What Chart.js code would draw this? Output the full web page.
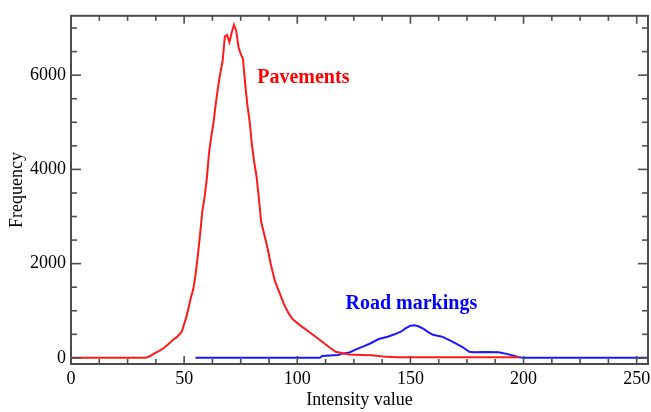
<!DOCTYPE html>
<html>
<head>
<meta charset="utf-8">
<script src="https://cdn.jsdelivr.net/npm/chart.js@4.4.1/dist/chart.umd.min.js"></script>
<style>
  body { margin: 0; background: #fff; }
  #wrap { width: 651px; height: 412px; }
</style>
</head>
<body>
<div id="wrap"><canvas id="chart" width="651" height="412"></canvas></div>
<script>
// Pavements histogram (red)
const pavementX = [0, 33, 35, 37, 39, 41, 43, 45, 47, 49, 51, 53, 54, 55, 56, 57, 58, 59, 60, 61, 62, 63, 64, 65, 66, 67, 68, 69, 70, 71, 72, 73, 74, 75, 76, 77, 78, 79, 80, 81, 82, 83, 84, 85, 86, 87, 88, 89, 90, 92, 94, 96, 98, 101, 105, 110, 114, 117, 120, 123, 128, 133, 138, 144, 150, 170, 198];
const pavementY = [0, 0, 40, 100, 150, 210, 290, 380, 450, 560, 870, 1280, 1450, 1750, 2150, 2600, 3100, 3400, 3800, 4350, 4700, 5000, 5400, 5750, 6050, 6300, 6820, 6850, 6700, 6900, 7070, 6950, 6600, 6450, 6350, 5800, 5350, 5000, 4500, 4150, 3850, 3400, 2900, 2700, 2500, 2300, 2050, 1850, 1650, 1400, 1150, 960, 820, 700, 560, 380, 230, 130, 100, 70, 60, 55, 30, 15, 15, 15, 15];

// Road markings histogram (blue)
const markingX = [55, 110, 111, 118, 120, 123, 126, 129, 132, 136, 140, 143, 146, 148, 150, 152, 154, 156, 158, 160, 164, 167, 170, 173, 176, 178, 183, 189, 193, 196, 198, 200, 255];
const markingY = [0, 0, 40, 60, 90, 115, 180, 240, 300, 400, 450, 500, 560, 630, 680, 690, 660, 610, 540, 490, 450, 380, 310, 230, 130, 120, 125, 120, 80, 40, 15, 0, 0];

const xMajorTicks = [0, 50, 100, 150, 200, 250];
const yMajorTicks = [0, 2000, 4000, 6000];

const labels = [
  { text: 'Pavements', x: 82.3, y: 5950, color: '#ff0000' },
  { text: 'Road markings', x: 121.3, y: 1140, color: '#0000ff' }
];

const serif = '"Liberation Serif", "Times New Roman", serif';

const toPoints = (xs, ys) => xs.map((x, i) => ({ x: x, y: ys[i] }));

const framePlugin = {
  id: 'frame',
  afterDatasetsDraw(chart) {
    const { ctx, chartArea: a, scales } = chart;
    const x = scales.x, y = scales.y;
    ctx.save();
    ctx.strokeStyle = '#4d4d4d';
    ctx.lineWidth = 2;
    ctx.strokeRect(a.left, a.top, a.right - a.left, a.bottom - a.top);

    const seg = (x1, y1, x2, y2) => {
      ctx.beginPath();
      ctx.moveTo(x1, y1);
      ctx.lineTo(x2, y2);
      ctx.stroke();
    };

    // inward ticks, 4 subdivisions between major ticks
    ctx.lineWidth = 1.6;
    for (let v = 0; v <= 255; v += 12.5) {
      const px = x.getPixelForValue(v);
      const len = v % 50 === 0 ? 8 : 5;
      seg(px, a.bottom, px, a.bottom - len);
      seg(px, a.top, px, a.top + len);
    }
    for (let v = 0; v <= 7000; v += 500) {
      const py = y.getPixelForValue(v);
      const len = v % 2000 === 0 ? 10 : 6;
      seg(a.left, py, a.left + len, py);
      seg(a.right, py, a.right - len, py);
    }

    // series labels
    ctx.font = 'bold 20px ' + serif;
    ctx.textBaseline = 'middle';
    ctx.textAlign = 'left';
    labels.forEach(l => {
      ctx.fillStyle = l.color;
      ctx.fillText(l.text, x.getPixelForValue(l.x), y.getPixelForValue(l.y));
    });
    ctx.restore();
  }
};

new Chart(document.getElementById('chart'), {
  type: 'line',
  data: {
    datasets: [
      {
        label: 'Pavements',
        data: toPoints(pavementX, pavementY),
        borderColor: '#ff1a1a',
        borderWidth: 2,
        pointRadius: 0,
        tension: 0
      },
      {
        label: 'Road markings',
        data: toPoints(markingX, markingY),
        borderColor: '#1a1aff',
        borderWidth: 2,
        pointRadius: 0,
        tension: 0
      }
    ]
  },
  options: {
    responsive: false,
    animation: false,
    layout: { padding: { top: 13, right: 3, left: 0, bottom: 0 } },
    plugins: {
      legend: { display: false },
      tooltip: { enabled: false }
    },
    scales: {
      x: {
        type: 'linear',
        min: 0,
        max: 255,
        afterBuildTicks: (scale) => { scale.ticks = xMajorTicks.map(v => ({ value: v })); },
        afterFit: (scale) => {
          scale.height = 48;
          scale.paddingLeft = 0;
          scale.paddingRight = 0;
        },
        grid: { display: false, drawTicks: false },
        border: { display: false },
        ticks: { color: '#000', font: { family: serif, size: 18 }, padding: 4, maxRotation: 0 },
        title: {
          display: true,
          text: 'Intensity value',
          color: '#000',
          font: { family: serif, size: 18 },
          padding: { top: 0, bottom: 1 }
        }
      },
      y: {
        min: -130,
        max: 7260,
        afterBuildTicks: (scale) => { scale.ticks = yMajorTicks.map(v => ({ value: v })); },
        afterFit: (scale) => { scale.width = 71; },
        grid: { display: false, drawTicks: false },
        border: { display: false },
        ticks: {
          color: '#000',
          font: { family: serif, size: 18 },
          padding: 5,
          callback: (v) => String(v)
        },
        title: {
          display: true,
          text: 'Frequency',
          color: '#000',
          font: { family: serif, size: 18 },
          padding: { top: 6, bottom: 0 }
        }
      }
    }
  },
  plugins: [framePlugin]
});
</script>
</body>
</html>
